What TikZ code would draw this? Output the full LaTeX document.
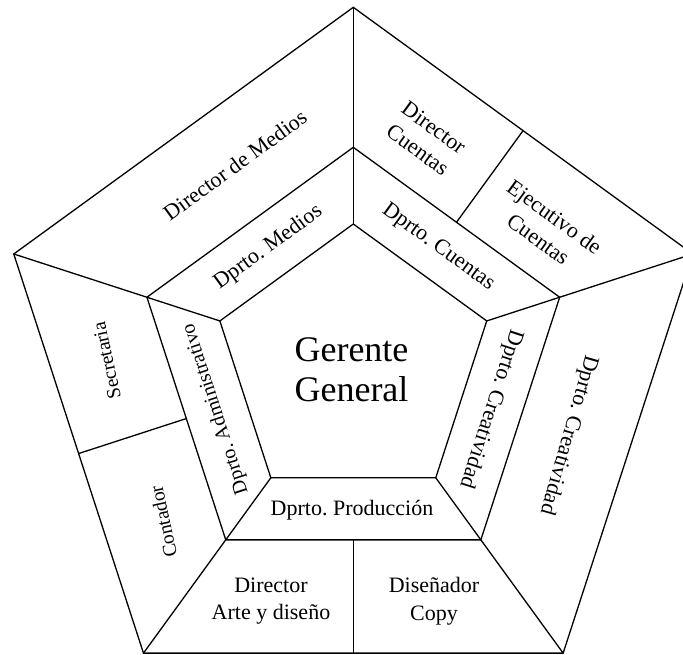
\documentclass[tikz,border=0pt]{standalone}
\usepackage{fontspec}
\setmainfont{Liberation Serif}
\usetikzlibrary{calc}
\frenchspacing
\begin{document}
\begin{tikzpicture}[x=1pt,y=-1pt,
  edge/.style={line width=1.3pt, line join=miter, line cap=butt},
  lbl/.style={font=\fontsize{22}{27.5}\selectfont, align=center, inner sep=0pt},
  slbl/.style={font=\fontsize{19.5}{24}\selectfont, align=center, inner sep=0pt},
  albl/.style={font=\fontsize{20}{24}\selectfont, align=center, inner sep=0pt},
  big/.style={font=\fontsize{36}{40}\selectfont, align=center, inner sep=0pt}]
\useasboundingbox (0,0) rectangle (683,655);
\clip (0,0) rectangle (683,655);

% three concentric regular pentagons: outer, middle, inner
\foreach \k in {0,...,4} {
  \coordinate (o\k) at ([shift={(353.3,364.3)}] {72*\k-90}:357);
  \coordinate (m\k) at ([shift={(353.3,364.3)}] {72*\k-90}:217);
  \coordinate (i\k) at ([shift={(353.3,364.3)}] {72*\k-90}:140.3);
}
\draw[edge] (o0)--(o1)--(o2)--(o3)--(o4)--cycle;
\draw[edge] (m0)--(m1)--(m2)--(m3)--(m4)--cycle;
\draw[edge] (i0)--(i1)--(i2)--(i3)--(i4)--cycle;
\foreach \k in {0,...,4} { \draw[edge] (i\k)--(o\k); }

% dividers splitting three outer segments in half
\coordinate (ua) at ($(o0)!.5!(o1)$);
\coordinate (ub) at ($(m0)!.5!(m1)$);
\coordinate (ba) at ($(o2)!.5!(o3)$);
\coordinate (bb) at ($(m2)!.5!(m3)$);
\coordinate (la) at ($(o3)!.5!(o4)$);
\coordinate (lb) at ($(m3)!.5!(m4)$);
\draw[edge] (ua)--(ub);
\draw[edge] (ba)--(bb);
\draw[edge] (la)--(lb);

% centre
\node[big] (gg) at (351.5,370) {Gerente\\General};

% inner ring
\node[lbl, rotate=36] (dm) at (268.4,247.4) {Dprto. Medios};
\node[lbl, rotate=-36] (dc) at (438.2,247.4) {Dprto. Cuentas};
\node[lbl, rotate=-108] (dcr) at (490.7,409) {Dprto. Creatividad};
\node[lbl] (dp) at (352,510) {Dprto. Producción};
\node[albl, rotate=108] (da) at (215.9,409) {Dprto. Administrativo};

% outer ring
\node[lbl, rotate=36] (dirm) at (235,165) {Director de Medios};
\node[lbl, rotate=-36] (dirc) at (425.8,138.7) {Director\\Cuentas};
\node[lbl, rotate=-36] (ejc) at (546.5,227.8) {Ejecutivo de\\Cuentas};
\node[lbl, rotate=-106] (dcr2) at (568.3,435) {Dprto. Creatividad};
\node[slbl, rotate=102] (sec) at (106.7,360.7) {Secretaria};
\node[slbl, rotate=102] (con) at (163.3,521.7) {Contador};
\node[lbl] (dad) at (271,601) {Director\\Arte y diseño};
\node[lbl] (dsc) at (434,601) {Diseñador\\Copy};
\end{tikzpicture}
\end{document}
